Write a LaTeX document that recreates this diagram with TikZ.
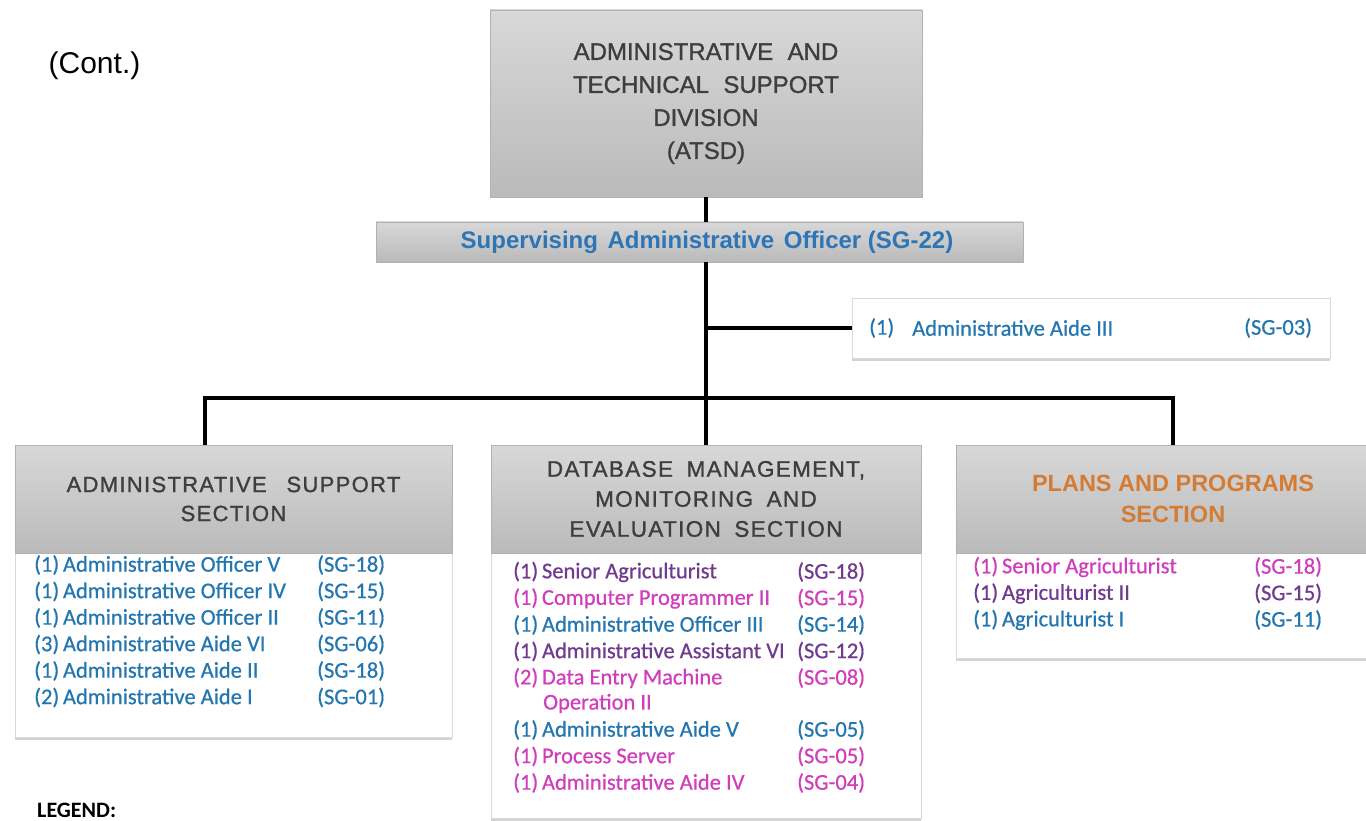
\documentclass[tikz,border=0pt]{standalone}
\usepackage{fontspec}
\setmainfont{Liberation Sans}
\newfontfamily\calfont[FakeBold=0.6]{Carlito}
\newfontfamily\legfont{Carlito}
\newfontfamily\hdrfont[LetterSpace=6,FakeBold=1.2]{Liberation Sans}
\newfontfamily\topfont[FakeBold=1.2]{Liberation Sans}
\usetikzlibrary{shadows}
\definecolor{hdrtop}{RGB}{216,216,216}
\definecolor{hdrbot}{RGB}{186,186,186}
\definecolor{hdrtext}{RGB}{62,62,62}
\definecolor{blu}{RGB}{35,118,175}
\definecolor{saoblu}{RGB}{46,117,182}
\definecolor{mag}{RGB}{208,62,188}
\definecolor{pur}{RGB}{112,58,142}
\definecolor{orng}{RGB}{212,124,52}
\tikzset{
  hdr/.style={draw=black!30, line width=0.8pt, top color=hdrtop, bottom color=hdrbot,
    inner sep=0pt, align=center, text=hdrtext},
  bodybox/.style={draw=black!15, line width=0.6pt, fill=white, inner sep=0pt,
    drop shadow={opacity=0.35, shadow xshift=0pt, shadow yshift=-3pt}},
  conn/.style={line width=4.5pt, black, line join=miter},
  bt/.style={text=#1, font=\calfont\fontsize{22.5}{26}\selectfont, inner sep=0pt, anchor=west},
}
\begin{document}
\begin{tikzpicture}[x=1pt,y=-1pt]
\useasboundingbox (0,0) rectangle (1366,821);
\clip (0,0) rectangle (1366,821);

% (Cont.)
\node[font=\fontsize{30}{34}\selectfont, inner sep=0pt] (cont) at (94.5,66) {(Cont.)};

% top division box
\node[hdr, minimum width=432pt, minimum height=187pt,
  font=\topfont\fontsize{24}{33}\selectfont] (atsd) at (706,103.5)
  {ADMINISTRATIVE\hspace{0.6em}AND\\TECHNICAL\hspace{0.6em}SUPPORT\\DIVISION\\(ATSD)};

% supervising officer bar
\node[hdr, minimum width=647pt, minimum height=40pt, text=saoblu,
  font=\bfseries\fontsize{24}{28}\selectfont] (sao) at (699.5,242)
  {\hspace{15pt}Supervising\hspace{0.4em}Administrative\hspace{0.4em}Officer (SG-22)};

% Aide III box
\node[bodybox, minimum width=478pt, minimum height=60pt] (aide3) at (1091,328) {};
\node[bt=blu] (a3n) at (869,328) {(1)};
\node[bt=blu] (a3t) at (912,328) {Administrative Aide III};
\node[bt=blu] (a3g) at (1244,328) {(SG-03)};

% section bodies
\node[bodybox, minimum width=437pt, minimum height=184pt] (ashb) at (233.5,645) {};
\node[bodybox, minimum width=430pt, minimum height=265pt] (dbmb) at (706,685.5) {};
\node[bodybox, minimum width=434pt, minimum height=105pt] (ppsb) at (1173,605.5) {};

% section headers
\node[hdr, minimum width=437pt, minimum height=108pt,
  font=\hdrfont\fontsize{22}{29}\selectfont] (ash) at (233.5,499)
  {ADMINISTRATIVE\hspace{0.9em}SUPPORT\\SECTION};
\node[hdr, minimum width=430pt, minimum height=108pt,
  font=\hdrfont\fontsize{22.5}{30}\selectfont] (dbm) at (706,499)
  {DATABASE\hspace{0.6em}MANAGEMENT,\\MONITORING\hspace{0.6em}AND\\EVALUATION\hspace{0.6em}SECTION};
\node[hdr, minimum width=434pt, minimum height=108pt, text=orng,
  font=\bfseries\fontsize{23.5}{31}\selectfont] (pps) at (1173,499)
  {PLANS AND PROGRAMS\\SECTION};

% connectors
\coordinate (bus) at (706,398);
\draw[conn] (atsd.south) -- (atsd.south |- sao.north);
\draw[conn] (atsd.south |- sao.south) -- (dbm.north);
\draw[conn] (atsd.south |- aide3.west) -- (aide3.west);
\draw[conn] ([xshift=-28.5pt]ash.north) -- ([xshift=-28.5pt]ash.north |- bus) -- (pps.north |- bus) -- (pps.north);

% left body text
\node[bt=blu] (l1) at (34,565) {(1)\,Administrative Officer V};
\node[bt=blu] (l1g) at (317,565) {(SG-18)};
\node[bt=blu] (l2) at (34,591.5) {(1)\,Administrative Officer IV};
\node[bt=blu] (l2g) at (317,591.5) {(SG-15)};
\node[bt=blu] (l3) at (34,618) {(1)\,Administrative Officer II};
\node[bt=blu] (l3g) at (317,618) {(SG-11)};
\node[bt=blu] (l4) at (34,644.5) {(3)\,Administrative Aide VI};
\node[bt=blu] (l4g) at (317,644.5) {(SG-06)};
\node[bt=blu] (l5) at (34,671) {(1)\,Administrative Aide II};
\node[bt=blu] (l5g) at (317,671) {(SG-18)};
\node[bt=blu] (l6) at (34,697.5) {(2)\,Administrative Aide I};
\node[bt=blu] (l6g) at (317,697.5) {(SG-01)};

% middle body text
\node[bt=pur] (m1) at (513,572) {(1)\,Senior Agriculturist};
\node[bt=pur] (m1g) at (797,572) {(SG-18)};
\node[bt=mag] (m2) at (513,598.5) {(1)\,Computer Programmer II};
\node[bt=mag] (m2g) at (797,598.5) {(SG-15)};
\node[bt=blu] (m3) at (513,625) {(1)\,Administrative Officer III};
\node[bt=blu] (m3g) at (797,625) {(SG-14)};
\node[bt=pur] (m4) at (513,651.5) {(1)\,Administrative Assistant VI};
\node[bt=pur] (m4g) at (797,651.5) {(SG-12)};
\node[bt=mag] (m5) at (513,678) {(2)\,Data Entry Machine};
\node[bt=mag] (m5b) at (543,703.5) {Operation II};
\node[bt=mag] (m5g) at (797,678) {(SG-08)};
\node[bt=blu] (m6) at (513,730) {(1)\,Administrative Aide V};
\node[bt=blu] (m6g) at (797,730) {(SG-05)};
\node[bt=mag] (m7) at (513,756.5) {(1)\,Process Server};
\node[bt=mag] (m7g) at (797,756.5) {(SG-05)};
\node[bt=mag] (m8) at (513,783) {(1)\,Administrative Aide IV};
\node[bt=mag] (m8g) at (797,783) {(SG-04)};

% right body text
\node[bt=mag] (r1) at (973,567) {(1)\,Senior Agriculturist};
\node[bt=mag] (r1g) at (1254,567) {(SG-18)};
\node[bt=pur] (r2) at (973,593.5) {(1)\,Agriculturist II};
\node[bt=pur] (r2g) at (1254,593.5) {(SG-15)};
\node[bt=blu] (r3) at (973,620) {(1)\,Agriculturist I};
\node[bt=blu] (r3g) at (1254,620) {(SG-11)};

% legend
\node[anchor=west, inner sep=0pt, font=\legfont\bfseries\fontsize{22}{24}\selectfont] (legend) at (37,810) {LEGEND:};
\end{tikzpicture}
\end{document}
